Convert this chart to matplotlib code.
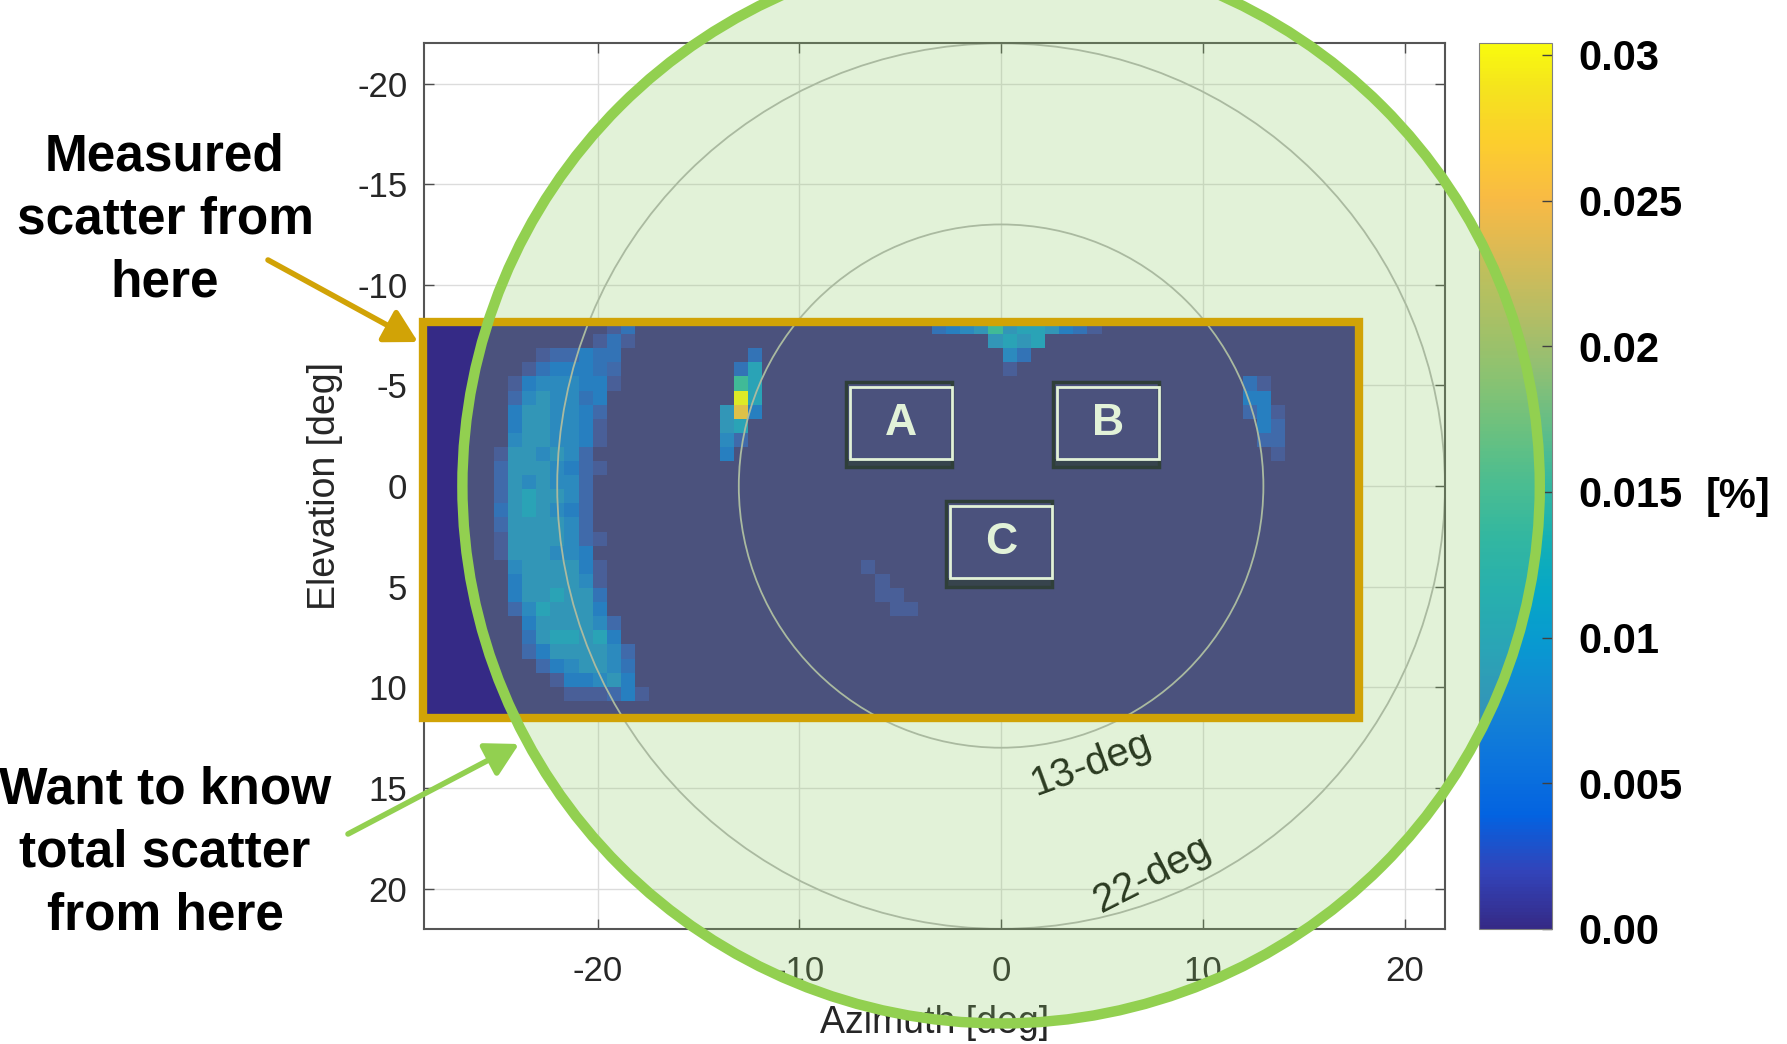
import numpy as np
import matplotlib.pyplot as plt
from matplotlib.colors import LinearSegmentedColormap
from matplotlib.patches import Circle, Rectangle, FancyArrowPatch

plt.rcParams['font.family'] = ['Liberation Sans', 'DejaVu Sans']

# MATLAB parula, every 4th entry of the 64-colour table
parula_rgb = [
    (0.2081, 0.1663, 0.5292), (0.1959, 0.2645, 0.7279), (0.0117, 0.3875, 0.8820),
    (0.0498, 0.4586, 0.8641), (0.0793, 0.5200, 0.8312), (0.0343, 0.5966, 0.8199),
    (0.0228, 0.6535, 0.7768), (0.0843, 0.6928, 0.7062), (0.2178, 0.7250, 0.6193),
    (0.3953, 0.7459, 0.5244), (0.5709, 0.7485, 0.4494), (0.7184, 0.7411, 0.3905),
    (0.8507, 0.7299, 0.3360), (0.9739, 0.7314, 0.2666), (0.9880, 0.8066, 0.1794),
    (0.9589, 0.8949, 0.1132), (0.9763, 0.9831, 0.0538),
]
parula_pos = [i / 63 for i in range(0, 61, 4)] + [1.0]
parula = LinearSegmentedColormap.from_list('parula', list(zip(parula_pos, parula_rgb)))

# measured scatter map: 28 elevation rows x 66 azimuth columns (0.7 deg cells)
n_el, n_az = 28, 66
az_lo, az_hi = -28.65, 17.55
el_lo, el_hi = -8.25, 11.35

level_values = {'.': 0.0, '1': 0.0014, '2': 0.0024, '3': 0.0032, '4': 0.0043,
                '5': 0.0058, '6': 0.0078, '7': 0.0095, '8': 0.0145,
                'O': 0.0255, 'Y': 0.030}

crescent = [
    ".............13..",
    "............131..",
    "........122433...",
    ".......1344432...",
    "......14555441...",
    "......2565534....",
    "......4665542....",
    "......4665541....",
    "......5665541....",
    ".....1665652.....",
    ".....26665421....",
    ".....2656552.....",
    ".....2676652.....",
    ".....3676542.....",
    ".....2666652.....",
    ".....16666521....",
    ".....1666554.....",
    "......5666641....",
    "......4666651....",
    "......4667663....",
    "......2576664....",
    ".......4666652...",
    ".......3677674...",
    ".......24666652..",
    "........2456653..",
    ".........144564..",
    "..........111241.",
]
hot_spot = ["..3", ".37", ".87", ".Y7", "6O4", "67.", "52.", "4.."]
top_blob = ["345686776431", "....6767....", ".....53.....", ".....1......"]
right_blob = ["31.", "44.", "241", ".42", ".22", "..1"]
faint_diag = ["1...", ".1..", ".11.", "..11"]

# (first row, first column, cells)
blobs = [(0, 0, crescent), (2, 21, hot_spot), (0, 36, top_blob),
         (4, 58, right_blob), (17, 31, faint_diag)]

scatter = np.zeros((n_el, n_az))
for r0, c0, rows in blobs:
    for i, line in enumerate(rows):
        for j, ch in enumerate(line):
            scatter[r0 + i, c0 + j] = level_values[ch]

az_ticks = [-20, -10, 0, 10, 20]
el_ticks = [-20, -15, -10, -5, 0, 5, 10, 15, 20]
cbar_ticks = [0, 0.005, 0.01, 0.015, 0.02, 0.025, 0.03]
cbar_labels = ['0.00', '0.005', '0.01', '0.015', '0.02', '0.025', '0.03']

ring_radii = [13, 22]
ring_labels = ['13-deg', '22-deg']
ring_label_pos = [(4.5, 13.8, 20), (7.5, 19.3, 27)]

box_labels = ['A', 'B', 'C']
box_az = [-4.94, 5.28, 0.0]
box_el = [-3.12, -3.12, 2.8]
box_w, box_h = 5.05, 3.58

total_radius = 26.7

gold = '#d1a306'
green = '#92d050'
W, H = 1787, 1044

fig = plt.figure(figsize=(W / 100, H / 100), dpi=100)
ax = fig.add_axes([0.2373, 0.1103, 0.5713, 0.8482])

im = ax.imshow(scatter, cmap=parula, vmin=0, vmax=0.0304,
               extent=[az_lo, az_hi, el_hi, el_lo], origin='upper',
               interpolation='nearest', aspect='auto', zorder=1)
ax.set_xlim(-28.6, 22)
ax.set_ylim(22, -22)

ax.set_axisbelow(True)
ax.grid(True, color='#dcdcdc', lw=1.0)
ax.set_xticks(az_ticks)
ax.set_xticklabels([str(v) for v in az_ticks])
ax.set_yticks(el_ticks)
ax.set_yticklabels([str(v) for v in el_ticks])
ax.tick_params(direction='in', top=True, right=True, length=7, width=1,
               color='#4d4d4d', labelcolor='#262626', labelsize=25)
ax.tick_params(axis='x', pad=19)
ax.tick_params(axis='y', pad=12)
for sp in ax.spines.values():
    sp.set_color('#555555')
    sp.set_linewidth(1.5)
ax.set_xlabel('Azimuth [deg]', fontsize=27, color='#262626', labelpad=12)
ax.set_ylabel('Elevation [deg]', fontsize=27, color='#262626', labelpad=10)

# angle rings
for r, txt, (tx, ty, rot) in zip(ring_radii, ring_labels, ring_label_pos):
    ax.add_patch(Circle((0, 0), r, fill=False, ec='#b4b4b4', lw=1.3, zorder=2))
    ax.text(tx, ty, txt, rotation=rot, fontsize=29, color='#0a0a0a',
            ha='center', va='center', zorder=3)

# target boxes
for lab, cx, cy in zip(box_labels, box_az, box_el):
    x0, y0 = cx - box_w / 2, cy - box_h / 2
    ax.add_patch(Rectangle((x0 - 0.2, y0 - 0.25), box_w + 0.2, box_h + 0.65,
                           fill=False, ec='#10102a', lw=2.5, zorder=3))
    ax.add_patch(Rectangle((x0 - 0.2, y0 + box_h), box_w + 0.2, 0.4,
                           fc='#10102a', ec='none', alpha=0.7, zorder=3))
    ax.add_patch(Rectangle((x0, y0), box_w, box_h, fill=False, ec='white',
                           lw=2, zorder=4))
    ax.text(cx, cy, lab, fontsize=32, fontweight='bold', color='white',
            ha='center', va='center', zorder=5)

# colorbar
cax = fig.add_axes([0.8278, 0.1103, 0.0408, 0.8482])
cbar = fig.colorbar(im, cax=cax, ticks=cbar_ticks)
cbar.set_ticklabels(cbar_labels)
cax.tick_params(direction='in', length=7, width=1, color='#404040', pad=19,
                labelsize=30)
for t in cax.get_yticklabels():
    t.set_fontweight('bold')
cbar.outline.set_edgecolor('#808080')
fig.text(1738 / W, 1 - 497 / H, '[%]', fontsize=30, fontweight='bold',
         ha='center', va='center')

# total-scatter circle drawn over everything
fig.add_artist(Circle((0, 0), total_radius, transform=ax.transData,
                      fc='#8ecc66', ec='none', alpha=0.25, zorder=1))
fig.add_artist(Rectangle((az_lo, el_lo + 0.1), az_hi - az_lo + 0.2,
                         el_hi - el_lo + 0.05, transform=ax.transData,
                         fill=False, ec=gold, lw=6, zorder=1.2))
fig.add_artist(Circle((0, 0), total_radius, transform=ax.transData,
                      fill=False, ec=green, lw=7.5, zorder=1.3))

# call-outs
fig.text(165 / W, 1 - 220 / H, 'Measured\nscatter from\nhere', fontsize=37,
         fontweight='bold', ha='center', va='center', linespacing=1.37)
fig.text(165 / W, 1 - 853 / H, 'Want to know\ntotal scatter\nfrom here',
         fontsize=37, fontweight='bold', ha='center', va='center',
         linespacing=1.37)
fig.add_artist(FancyArrowPatch((268 / W, 1 - 260 / H), (418 / W, 1 - 342 / H),
                               transform=fig.transFigure, color=gold, lw=4,
                               arrowstyle='-|>,head_length=0.9,head_width=0.5',
                               mutation_scale=22, shrinkA=0, shrinkB=0, zorder=2))
fig.add_artist(FancyArrowPatch((348 / W, 1 - 834 / H), (519 / W, 1 - 744 / H),
                               transform=fig.transFigure, color=green, lw=4,
                               arrowstyle='-|>,head_length=0.9,head_width=0.5',
                               mutation_scale=22, shrinkA=0, shrinkB=0, zorder=2))

fig.savefig('out.png', dpi=100)
